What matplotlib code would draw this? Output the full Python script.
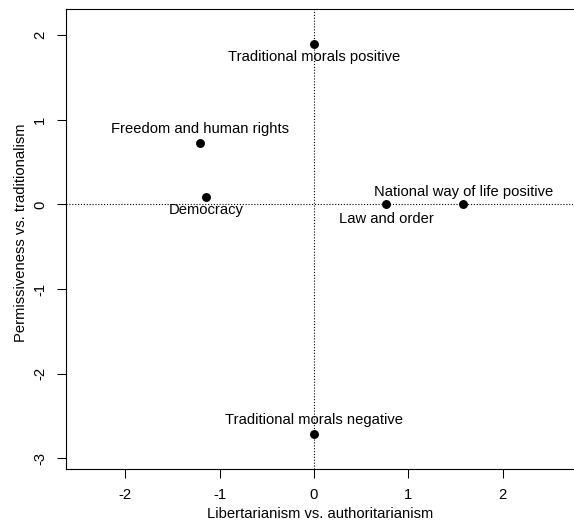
"""
Libertarianism vs. authoritarianism / permissiveness vs. traditionalism
"""
import matplotlib
matplotlib.use('Agg')
import matplotlib.pyplot as plt

labels = ['Traditional morals positive', 'Freedom and human rights', 'Democracy',
          'Law and order', 'National way of life positive', 'Traditional morals negative']
x_vals = [0.0, -1.21, -1.145, 0.763, 1.583, 0.0]
y_vals = [1.90, 0.73, 0.094, 0.0, 0.0, -2.71]
# label offset in pixels above (+) or below (-) the point
label_dy = [-13, 13.5, -13.5, -15, 12, 14]

x_ticks = [-2, -1, 0, 1, 2]
y_ticks = [-3, -2, -1, 0, 1, 2]

plt.rcParams['font.family'] = ['Liberation Sans', 'DejaVu Sans']
fs = 10.6

fig = plt.figure(figsize=(5.74, 5.23), dpi=100)
W, H = 574, 523
ax = fig.add_axes([66 / W, (H - 469) / H, (576 - 66) / W, (469 - 9) / H])

ax.axhline(0, color='black', linestyle=(0, (1, 1.6)), linewidth=0.8, zorder=1)
ax.axvline(0, color='black', linestyle=(0, (1, 1.6)), linewidth=0.8, zorder=1)

ax.plot(x_vals, y_vals, 'o', color='black', markersize=5.4, zorder=3)

for lab, xv, yv, dy in zip(labels, x_vals, y_vals, label_dy):
    ax.annotate(lab, (xv, yv), xytext=(0, dy * 0.72), textcoords='offset points',
                ha='center', va='center', fontsize=fs)

ax.set_xlim(-2.63, 2.778)
ax.set_ylim(-3.127, 2.311)
ax.set_xticks(x_ticks)
ax.set_xticklabels([str(v) for v in x_ticks])
ax.set_yticks(y_ticks)
ax.set_yticklabels([str(v) for v in y_ticks], rotation=90, va='center')
ax.tick_params(axis='both', direction='out', length=6.5, width=0.75, labelsize=fs, pad=7)

for side in ['left', 'bottom', 'top']:
    ax.spines[side].set_linewidth(0.8)
ax.spines['right'].set_visible(False)

fig.text(21 / W, 1 - 233 / H, 'Permissiveness vs. traditionalism', rotation=90,
         ha='center', va='center', fontsize=fs)
fig.text(320 / W, 1 - 514 / H, 'Libertarianism vs. authoritarianism',
         ha='center', va='center', fontsize=fs)

plt.savefig('out.png', dpi=100)
